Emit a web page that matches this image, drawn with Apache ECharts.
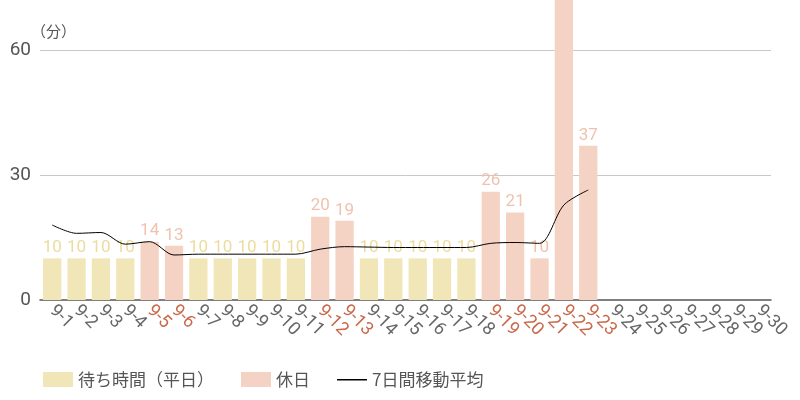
<!DOCTYPE html>
<html>
<head>
<meta charset="utf-8">
<script src="https://cdn.jsdelivr.net/npm/echarts@6/dist/echarts.min.js"></script>
<style>
  html, body { margin: 0; padding: 0; background: #fff; }
  #chart { width: 800px; height: 400px; }
</style>
</head>
<body>
<div id="chart"></div>
<script>
// 日付（9月）
var days = ['9-1','9-2','9-3','9-4','9-5','9-6','9-7','9-8','9-9','9-10',
            '9-11','9-12','9-13','9-14','9-15','9-16','9-17','9-18','9-19','9-20',
            '9-21','9-22','9-23','9-24','9-25','9-26','9-27','9-28','9-29','9-30'];
// 休日の日付
var holidays = ['9-5','9-6','9-12','9-13','9-19','9-20','9-21','9-22','9-23'];
// 待ち時間（平日）
var weekdayWait = [10,10,10,10,'-','-',10,10,10,10,
                   10,'-','-',10,10,10,10,10,'-','-',
                   '-','-','-','-','-','-','-','-','-','-'];
// 休日
var holidayWait = ['-','-','-','-',14,13,'-','-','-','-',
                   '-',20,19,'-','-','-','-','-',26,21,
                   10,72,37,'-','-','-','-','-','-','-'];
// 7日間移動平均
var movingAvg = [18.0,16.0,16.2,13.4,14.0,10.8,11.0,11.0,11.0,11.0,
                 11.0,12.2,12.8,12.7,12.6,12.6,12.6,12.6,13.6,13.8,
                 13.6,22.8,26.4,'-','-','-','-','-','-','-'];
var yTicks = [0, 30, 60];

var numFont = '"Roboto",sans-serif';
var jpFont = '"Noto Sans CJK JP",sans-serif';

var myChart = echarts.init(document.getElementById('chart'));

var option = {
    animation: false,
    grid: { left: 40, right: 29, top: 50, bottom: 100 },
    legend: {
        left: 38,
        bottom: 7,
        itemWidth: 30,
        itemHeight: 15,
        itemGap: 27,
        textStyle: { fontFamily: jpFont, fontSize: 17, color: '#555' },
        data: [
            { name: '待ち時間（平日）', icon: 'rect' },
            { name: '休日', icon: 'rect' },
            // 線だけのアイコン
            { name: '7日間移動平均', icon: 'path://M0,0 M0,15 M0,7 L30,7 L30,8.5 L0,8.5 Z' }
        ]
    },
    xAxis: {
        type: 'category',
        data: days,
        axisTick: { show: false },
        axisLine: { lineStyle: { color: '#555', width: 1.5 } },
        axisLabel: {
            interval: 0,
            rotate: -45,
            margin: 8,
            fontFamily: numFont,
            fontSize: 18,
            color: function(v) {
                return holidays.indexOf(v) >= 0 ? '#c8694a' : '#666';
            }
        }
    },
    yAxis: {
        type: 'value',
        min: yTicks[0],
        max: yTicks[yTicks.length - 1],
        interval: 30,
        name: '（分）',
        nameLocation: 'end',
        nameGap: 11,
        nameTextStyle: { fontFamily: jpFont, fontSize: 15, color: '#555', align: 'left', padding: [0, 0, 0, -9] },
        axisLine: { show: false },
        axisTick: { show: false },
        axisLabel: { fontFamily: numFont, fontSize: 19, color: '#555', margin: 9 },
        splitLine: {
            lineStyle: { color: '#c8c8c8' },
            showMinLine: false
        }
    },
    series: [{
        name: '待ち時間（平日）',
        type: 'bar',
        stack: 'wait',
        barWidth: '75%',
        clip: false,
        data: weekdayWait,
        itemStyle: { color: '#f1e6b8' },
        label: {
            show: true,
            position: 'top',
            distance: 2,
            fontFamily: numFont,
            fontSize: 17,
            color: '#ecdc9f'
        }
    }, {
        name: '休日',
        type: 'bar',
        stack: 'wait',
        barWidth: '75%',
        clip: false,
        data: holidayWait,
        itemStyle: { color: '#f5d3c4' },
        label: {
            show: true,
            position: 'top',
            distance: 2,
            fontFamily: numFont,
            fontSize: 17,
            color: '#f0c2ae'
        }
    }, {
        name: '7日間移動平均',
        type: 'line',
        smooth: 0.3,
        symbol: 'none',
        z: 5,
        data: movingAvg,
        itemStyle: { color: '#000' },
        lineStyle: { color: '#000', width: 1 }
    }]
};

myChart.setOption(option);
</script>
</body>
</html>
